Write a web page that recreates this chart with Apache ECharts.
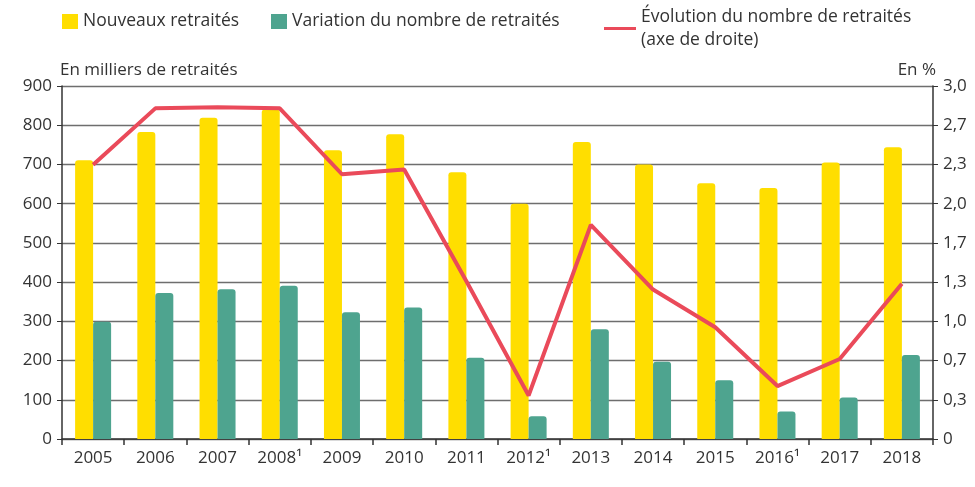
<!DOCTYPE html>
<html lang="fr">
<head>
	<meta charset="UTF-8">
	<title>Retraités</title>
	<style type="text/css">
		html, body { margin: 0; padding: 0; background: #fff; }
		#chart { width: 975px; height: 487px; }
	</style>
</head>
<body>
	<div id="chart"></div>
	<script type="text/javascript" src="https://cdn.jsdelivr.net/npm/echarts@6/dist/echarts.min.js"></script>
	<script type="text/javascript">
		// années (¹ = note de bas de page)
		var annees = ['2005', '2006', '2007', '2008¹', '2009', '2010', '2011', '2012¹', '2013', '2014', '2015', '2016¹', '2017', '2018'];
		// en milliers
		var nouveaux = [711, 783, 819, 840, 736, 777, 680, 600, 757, 700, 652, 640, 705, 744];
		var variation = [299, 372, 382, 391, 323, 335, 207, 58, 280, 197, 150, 70, 106, 214];
		// en %
		var evolution = [2.33, 2.81, 2.82, 2.81, 2.25, 2.29, 1.34, 0.37, 1.82, 1.27, 0.95, 0.45, 0.68, 1.32];

		var txt = '#333';
		var police = 'Open Sans';
		var jaune = '#ffde00', vert = '#4ea48f', rouge = '#ea4a5a';
		var myChart = echarts.init(document.getElementById('chart'));

		var styleLegende = { fontFamily: police, fontSize: 17.5, color: txt, lineHeight: 23 };

		var option = {
			textStyle: { fontFamily: police, color: txt },
			// trois légendes placées séparément comme sur l'original
			legend: [
				{
					top: 10, left: 62, padding: 0,
					itemWidth: 16, itemHeight: 15,
					textStyle: styleLegende,
					data: [{ name: 'Nouveaux retraités', icon: 'rect' }]
				},
				{
					top: 10, left: 271, padding: 0,
					itemWidth: 16, itemHeight: 15,
					textStyle: styleLegende,
					data: [{ name: 'Variation du nombre de retraités', icon: 'rect' }]
				},
				{
					top: -6, left: 604, padding: 0,
					itemWidth: 32, itemHeight: 3,
					textStyle: Object.assign({}, styleLegende, { padding: [23, 0, 0, 0] }),
					formatter: function (n) { return n.replace(' (axe', '\n(axe'); },
					data: [{ name: 'Évolution du nombre de retraités (axe de droite)', icon: 'rect' }]
				}
			],
			grid: { left: 62, right: 42, top: 86, bottom: 48 },
			xAxis: {
				type: 'category',
				data: annees,
				axisLine: { lineStyle: { color: '#333', width: 1.5 } },
				axisTick: { show: true, length: 6, lineStyle: { color: '#333', width: 1.5 } },
				axisLabel: { fontSize: 17, color: txt, margin: 11 }
			},
			yAxis: [
				{
					type: 'value',
					min: 0,
					max: 900,
					interval: 100,
					name: 'En milliers de retraités',
					nameLocation: 'end',
					nameGap: 7,
					nameTextStyle: { fontSize: 17, color: txt, align: 'left', padding: [0, 0, 0, -2] },
					axisLine: { show: true, lineStyle: { color: '#333', width: 1.5 } },
					axisTick: { show: true, length: 5, lineStyle: { color: '#333' } },
					axisLabel: { fontSize: 17, color: txt, margin: 10 },
					splitLine: { lineStyle: { color: '#6e6e6e', width: 1.3 } }
				},
				{
					type: 'value',
					min: 0,
					max: 3,
					interval: 1 / 3,
					name: 'En %',
					nameLocation: 'end',
					nameGap: 7,
					nameTextStyle: { fontSize: 17, color: txt, align: 'right', padding: [0, -3, 0, 0] },
					axisLine: { show: true, lineStyle: { color: '#333', width: 1.5 } },
					axisTick: { show: true, length: 5, lineStyle: { color: '#333' } },
					axisLabel: {
						fontSize: 17, color: txt, margin: 10,
						formatter: function (v) {
							if (v === 0) return '0';
							return v.toFixed(1).replace('.', ',');
						}
					},
					splitLine: { show: false }
				}
			],
			series: [
				{
					name: 'Nouveaux retraités',
					type: 'bar',
					data: nouveaux,
					barWidth: 18,
					barGap: '0%',
					itemStyle: { color: jaune, borderRadius: [3, 3, 0, 0] }
				},
				{
					name: 'Variation du nombre de retraités',
					type: 'bar',
					data: variation,
					barWidth: 18,
					itemStyle: { color: vert, borderRadius: [3, 3, 0, 0] }
				},
				{
					name: 'Évolution du nombre de retraités (axe de droite)',
					type: 'line',
					yAxisIndex: 1,
					data: evolution,
					symbol: 'none',
					lineStyle: { color: rouge, width: 4 },
					itemStyle: { color: rouge }
				}
			]
		};
		myChart.setOption(option);
	</script>
</body>
</html>
